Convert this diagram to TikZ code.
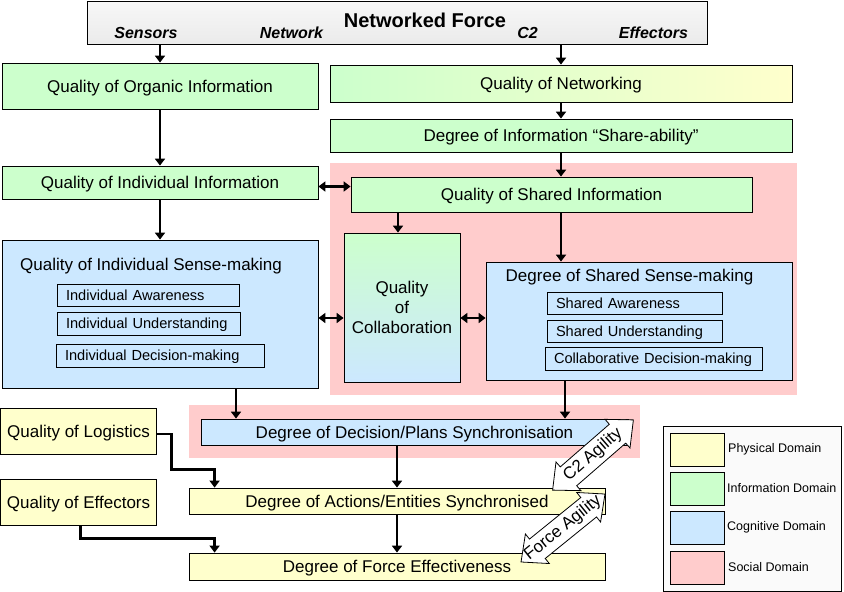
\documentclass[tikz,border=0pt]{standalone}
\usepackage{fontspec}
\setmainfont{Liberation Sans}
\usetikzlibrary{arrows.meta,calc}
\definecolor{infog}{HTML}{CCFFCC}
\definecolor{physy}{HTML}{FFFFCC}
\definecolor{cogb}{HTML}{CCE8FF}
\definecolor{socp}{HTML}{FFCCCC}
\definecolor{legbg}{HTML}{FAFAFA}
\tikzset{
  box/.style={draw, line width=0.8pt, inner sep=0pt, align=center, text height=15pt, text depth=3pt, font=\fontsize{17}{20}\selectfont},
  subbox/.style={draw, line width=0.8pt, inner xsep=9pt, inner ysep=0pt, align=left, text height=12.5pt, text depth=2.5pt, font=\fontsize{14.6}{17}\selectfont},
  hlab/.style={inner sep=0pt, font=\fontsize{16}{18}\selectfont\bfseries\itshape},
  ttl/.style={inner sep=0pt, font=\fontsize{17}{20}\selectfont},
  legtxt/.style={inner sep=0pt, anchor=west, font=\fontsize{12.5}{14}\selectfont},
  swatch/.style={draw, line width=0.8pt, minimum width=54pt, minimum height=33pt, inner sep=0pt},
  arr/.style={line width=2.8pt, -{Triangle[length=7pt,width=10pt]}},
  dbl/.style={line width=2.8pt, {Triangle[length=7pt,width=10pt]}-{Triangle[length=7pt,width=10pt]}},
  agilshape/.style={draw, line width=0.8pt, fill=white, line join=miter},
  agiltxt/.style={inner sep=0pt, font=\fontsize{17}{18}\selectfont}
}
\newcommand{\dblblock}[4]{% center, angle, length, name
  \begin{scope}[shift={#1}, rotate=#2]
    \draw[agilshape] (-#3/2,0) -- (-#3/2+21,19) -- (-#3/2+21,12.5) -- (#3/2-21,12.5) -- (#3/2-21,19)
      -- (#3/2,0) -- (#3/2-21,-19) -- (#3/2-21,-12.5) -- (-#3/2+21,-12.5) -- (-#3/2+21,-19) -- cycle;
    \coordinate (#4) at (0,0);
  \end{scope}}
\begin{document}
\begin{tikzpicture}[x=1pt,y=-1pt]
\useasboundingbox (0,0) rectangle (844,592);
% social regions
\fill[socp] (330,163) rectangle (797,395);
\fill[socp] (189,405) rectangle (640,458);
% header
\node[draw, line width=0.8pt, top color=gray!6, bottom color=gray!16, minimum width=620pt, minimum height=43pt, inner sep=0pt] (hdr) at (397,22.5) {};
\node[inner sep=0pt, font=\fontsize{20}{22}\selectfont\bfseries] (nf) at (425,20) {Networked Force};
\node[hlab] (lsen) at (146,33) {Sensors};
\node[hlab] (lnet) at (291.5,33) {Network};
\node[hlab] (lc2) at (527.5,33) {C2};
\node[hlab] (leff) at (653.5,33) {Effectors};
% boxes
\node[box, fill=infog, minimum width=316pt, minimum height=46pt] (org) at (160,86) {Quality of Organic Information};
\node[box, left color=infog, right color=physy, minimum width=462pt, minimum height=37pt] (net) at (561,83.5) {Quality of Networking};
\node[box, fill=infog, minimum width=462pt, minimum height=33pt] (share) at (561,135.5) {Degree of Information “Share-ability”};
\node[box, fill=infog, minimum width=401pt, minimum height=35pt] (sinfo) at (551.5,194.5) {Quality of Shared Information};
\node[box, fill=infog, minimum width=316pt, minimum height=33pt] (iinfo) at (160,182.5) {Quality of Individual Information};
% individual sense-making
\node[box, fill=cogb, minimum width=316pt, minimum height=148pt] (isense) at (160,314) {};
\node[ttl, anchor=west] (isttl) at (20,266) {Quality of Individual Sense-making};
\node[subbox, text width=164pt, minimum height=22pt] (ia) at (148,295) {\mbox{Individual Awareness}};
\node[subbox, text width=165pt, minimum height=23pt] (iu) at (148.5,323.5) {\mbox{Individual Understanding}};
\node[subbox, text width=190pt, minimum height=23pt] (idm) at (160,355.5) {\mbox{Individual Decision-making}};
% collaboration
\node[draw, line width=0.8pt, inner sep=0pt, align=center, font=\fontsize{17}{20}\selectfont, top color=infog, bottom color=cogb, minimum width=116pt, minimum height=149pt] (collab) at (402,307.5) {Quality\\of\\Collaboration};
% shared sense-making
\node[box, fill=cogb, minimum width=306pt, minimum height=118pt] (ssense) at (639,321) {};
\node[ttl] (ssttl) at (629.5,277) {Degree of Shared Sense-making};
\node[subbox, text width=157pt, minimum height=22pt] (sa) at (634.5,303) {\mbox{Shared Awareness}};
\node[subbox, text width=157pt, minimum height=22pt] (su) at (634.5,331) {\mbox{Shared Understanding}};
\node[subbox, text width=199pt, minimum height=23pt] (cdm) at (653.5,358.5) {\mbox{Collaborative Decision-making}};
% lower boxes
\node[box, fill=cogb, minimum width=427pt, minimum height=26pt] (dec) at (414.5,432) {Degree of Decision/Plans Synchronisation};
\node[box, fill=physy, minimum width=416pt, minimum height=26pt] (act) at (397,501) {Degree of Actions/Entities Synchronised};
\node[box, fill=physy, minimum width=416pt, minimum height=27pt] (force) at (397,566.5) {Degree of Force Effectiveness};
\node[box, fill=physy, minimum width=156pt, minimum height=46pt] (log) at (78.5,431) {Quality of Logistics};
\node[box, fill=physy, minimum width=156pt, minimum height=46pt] (eff) at (78.5,502) {Quality of Effectors};
% legend
\node[draw, line width=0.8pt, fill=legbg, minimum width=178pt, minimum height=165pt, inner sep=0pt] (legend) at (752,508.5) {};
\node[swatch, fill=physy] (sw1) at (697,449.5) {};
\node[swatch, fill=infog] (sw2) at (697,488.5) {};
\node[swatch, fill=cogb] (sw3) at (697,527.5) {};
\node[swatch, fill=socp] (sw4) at (697,567.5) {};
\node[legtxt] (lt1) at (728,449.5) {Physical Domain};
\node[legtxt] (lt2) at (727,488.5) {Information Domain};
\node[legtxt] (lt3) at (727,527.5) {Cognitive Domain};
\node[legtxt] (lt4) at (728,567.5) {Social Domain};
% helper coordinates
\coordinate (y318) at (0,318);
\coordinate (xa) at (236,0);
\coordinate (xb) at (565,0);
% connectors
\draw[arr] (org.north |- hdr.south) -- (org.north);
\draw[arr] (net.north |- hdr.south) -- (net.north);
\draw[arr] (org.south) -- (iinfo.north);
\draw[arr] (net.south) -- (share.north);
\draw[arr] (share.south) -- (share.south |- sinfo.north);
\draw[dbl] ($(iinfo.east)+(0,4)$) -- ($(iinfo.east -| sinfo.west)+(0,4)$);
\draw[arr] (iinfo.south) -- (isense.north);
\draw[arr] ($(sinfo.south -| collab.north)+(-4,0)$) -- ($(collab.north)+(-4,0)$);
\draw[arr] (sinfo.south -| share.south) -- (ssense.north -| share.south);
\draw[dbl] (isense.east |- y318) -- (collab.west |- y318);
\draw[dbl] (collab.east |- y318) -- (ssense.west |- y318);
\draw[arr] (isense.south -| xa) -- (dec.north -| xa);
\draw[arr] (ssense.south -| xb) -- (dec.north -| xb);
\draw[arr] (dec.south -| act.north) -- (act.north);
\draw[arr] (act.south) -- (force.north);
\draw[arr] ($(log.east)+(0,3)$) -| ($(act.north west)+(-17,-18)$) -| ($(act.north west)+(26,0)$);
\draw[arr] ($(eff.south)+(2,0)$) |- ($(force.north west)+(26,-14)$) -- ($(force.north west)+(26,0)$);
% agility arrows
\dblblock{(593,455)}{41}{107}{c2c}
\node[agiltxt, rotate=41] (c2ag) at (c2c) {C2 Agility};
\dblblock{(563,528)}{39}{108}{fc}
\node[agiltxt, rotate=39] (fag) at (fc) {Force Agility};
\end{tikzpicture}
\end{document}
